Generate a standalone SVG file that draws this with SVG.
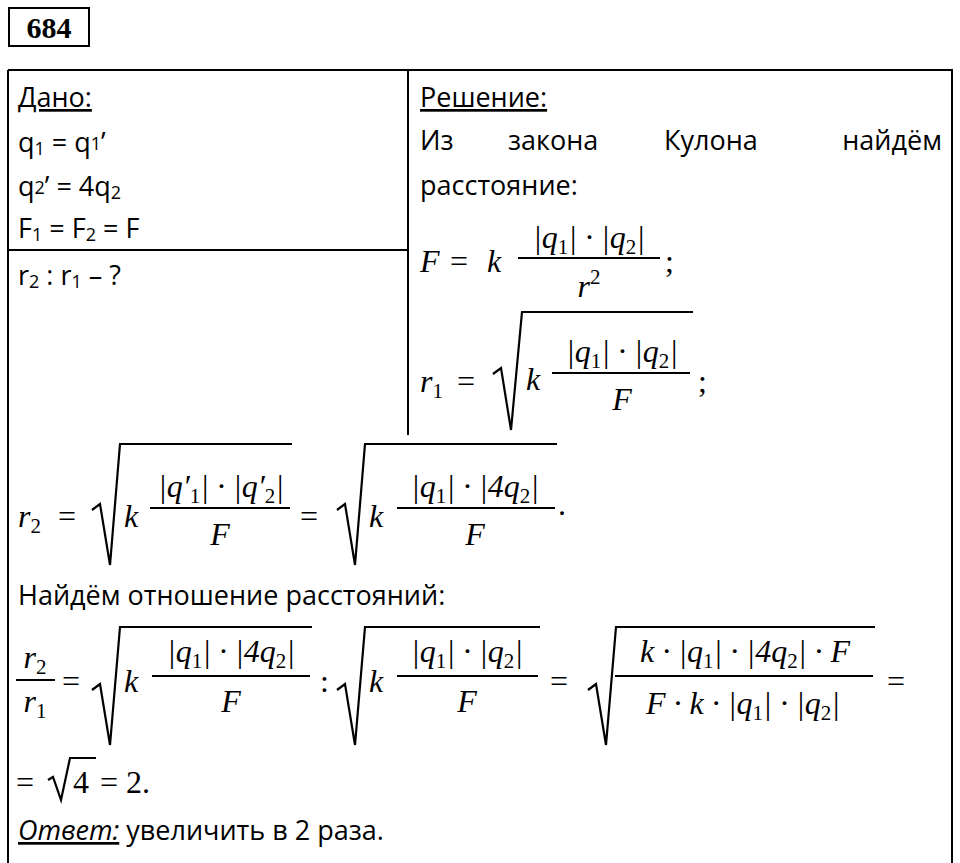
<svg xmlns="http://www.w3.org/2000/svg" width="960" height="863" viewBox="0 0 960 863">
<style>
.t{font-family:"Open Sans","Noto Sans",sans-serif;font-size:27px;fill:#000}
.m{font-family:"Liberation Serif",serif;font-style:italic;font-size:32px;fill:#000}
.n{font-family:"Liberation Serif",serif;font-size:32px;fill:#000}
.s{font-size:21px}
.b{font-size:18px}
.l{stroke:#000;stroke-width:2;fill:none}
.r{stroke:#000;stroke-width:2.2;fill:none;stroke-linejoin:miter}
</style>
<rect width="960" height="863" fill="#fff"/>
<rect x="9" y="8" width="80" height="38" class="l" stroke-width="2.5"/>
<text x="49" y="38" text-anchor="middle" style="font-family:'Liberation Serif',serif;font-weight:bold;font-size:30px">684</text>
<path class="l" d="M8,70 H952 V863 M8,70 V863 M408,70 V435 M8,250 H408"/>
<text class="t" x="18" y="107" text-decoration="underline">Дано:</text>
<text class="t" x="18" y="152">q<tspan class="b" dy="3">1</tspan><tspan dy="-3"> = q</tspan><tspan class="b" dy="-2">1</tspan><tspan dy="2">’</tspan></text>
<text class="t" x="18" y="196">q<tspan class="b" dy="-2">2</tspan><tspan dy="2">’ = 4q</tspan><tspan class="b" dy="3">2</tspan></text>
<text class="t" x="18" y="238">F<tspan class="b" dy="3">1</tspan><tspan dy="-3"> = F</tspan><tspan class="b" dy="3">2</tspan><tspan dy="-3"> = F</tspan></text>
<text class="t" x="18" y="285">r<tspan class="b" dy="3">2</tspan><tspan dy="-3"> : r</tspan><tspan class="b" dy="3">1</tspan><tspan dy="-3"> – ?</tspan></text>
<text class="t" x="420" y="107" text-decoration="underline">Решение:</text>
<text class="t" x="420" y="150">Из</text><text class="t" x="508" y="150">закона</text><text class="t" x="664" y="150">Кулона</text><text class="t" x="942" y="150" text-anchor="end">найдём</text>
<text class="t" x="420" y="195">расстояние:</text>
<g id="eqF">
<text class="m" x="420" y="272">F</text><text class="n" x="450" y="272">=</text><text class="m" x="487" y="272">k</text>
<text class="m" x="589" y="248" text-anchor="middle">|q<tspan class="s" dy="6" font-style="normal">1</tspan><tspan dy="-6">| · |q</tspan><tspan class="s" dy="6" font-style="normal">2</tspan><tspan dy="-6">|</tspan></text>
<line class="l" x1="518" y1="258" x2="660" y2="258"/>
<text class="m" x="589" y="297" text-anchor="middle">r<tspan class="s" dy="-13" font-style="normal">2</tspan></text>
<text class="n" x="665" y="272">;</text>
</g>
<g id="eqR1">
<text class="m" x="420" y="392">r<tspan class="s" dy="6" font-style="normal">1</tspan></text><text class="n" x="457" y="392">=</text>
<path class="r" d="M493,374 L501,368 L511,430 L522,312 L693,312"/>
<text class="m" x="526" y="390">k</text>
<text class="m" x="622" y="362" text-anchor="middle">|q<tspan class="s" dy="6" font-style="normal">1</tspan><tspan dy="-6">| · |q</tspan><tspan class="s" dy="6" font-style="normal">2</tspan><tspan dy="-6">|</tspan></text>
<line class="l" x1="552" y1="373" x2="690" y2="373"/>
<text class="m" x="622" y="410" text-anchor="middle">F</text>
<text class="n" x="698" y="392">;</text>
</g>
<g id="eqR2">
<text class="m" x="18" y="527">r<tspan class="s" dy="6" font-style="normal">2</tspan></text><text class="n" x="58" y="527">=</text>
<path class="r" d="M92,510 L100,504 L110,565 L120,444 L292,444"/>
<text class="m" x="124" y="527">k</text>
<text class="m" x="221" y="497" text-anchor="middle">|q′<tspan class="s" dy="6" font-style="normal">1</tspan><tspan dy="-6">| · |q′</tspan><tspan class="s" dy="6" font-style="normal">2</tspan><tspan dy="-6">|</tspan></text>
<line class="l" x1="150" y1="508" x2="290" y2="508"/>
<text class="m" x="220" y="545" text-anchor="middle">F</text>
<text class="n" x="300" y="527">=</text>
<path class="r" d="M337,510 L345,504 L355,565 L365,444 L557,444"/>
<text class="m" x="369" y="527">k</text>
<text class="m" x="475" y="497" text-anchor="middle">|q<tspan class="s" dy="6" font-style="normal">1</tspan><tspan dy="-6">| · |4q</tspan><tspan class="s" dy="6" font-style="normal">2</tspan><tspan dy="-6">|</tspan></text>
<line class="l" x1="397" y1="508" x2="555" y2="508"/>
<text class="m" x="475" y="545" text-anchor="middle">F</text>
<text class="n" x="558" y="515">.</text>
</g>
<text class="t" x="18" y="605">Найдём отношение расстояний:</text>
<g id="eqRatio">
<text class="m" x="35" y="668" text-anchor="middle">r<tspan class="s" dy="6" font-style="normal">2</tspan></text>
<line class="l" x1="16" y1="680" x2="55" y2="680"/>
<text class="m" x="35" y="712" text-anchor="middle">r<tspan class="s" dy="6" font-style="normal">1</tspan></text>
<text class="n" x="62" y="692">=</text>
<path class="r" d="M92,690 L100,684 L110,745 L120,627 L312,627"/>
<text class="m" x="124" y="692">k</text>
<text class="m" x="231" y="662" text-anchor="middle">|q<tspan class="s" dy="6" font-style="normal">1</tspan><tspan dy="-6">| · |4q</tspan><tspan class="s" dy="6" font-style="normal">2</tspan><tspan dy="-6">|</tspan></text>
<line class="l" x1="152" y1="676" x2="310" y2="676"/>
<text class="m" x="231" y="712" text-anchor="middle">F</text>
<text class="n" x="320" y="692">:</text>
<path class="r" d="M337,690 L345,684 L355,745 L365,627 L540,627"/>
<text class="m" x="369" y="692">k</text>
<text class="m" x="467" y="662" text-anchor="middle">|q<tspan class="s" dy="6" font-style="normal">1</tspan><tspan dy="-6">| · |q</tspan><tspan class="s" dy="6" font-style="normal">2</tspan><tspan dy="-6">|</tspan></text>
<line class="l" x1="397" y1="676" x2="538" y2="676"/>
<text class="m" x="467" y="712" text-anchor="middle">F</text>
<text class="n" x="550" y="692">=</text>
<path class="r" d="M588,690 L596,684 L606,745 L616,627 L875,627"/>
<text class="m" x="745" y="662" text-anchor="middle">k · |q<tspan class="s" dy="6" font-style="normal">1</tspan><tspan dy="-6">| · |4q</tspan><tspan class="s" dy="6" font-style="normal">2</tspan><tspan dy="-6">| · F</tspan></text>
<line class="l" x1="615" y1="676" x2="873" y2="676"/>
<text class="m" x="743" y="714" text-anchor="middle">F · k · |q<tspan class="s" dy="6" font-style="normal">1</tspan><tspan dy="-6">| · |q</tspan><tspan class="s" dy="6" font-style="normal">2</tspan><tspan dy="-6">|</tspan></text>
<text class="n" x="887" y="692">=</text>
</g>
<g id="eqRes">
<text class="n" x="16" y="793">=</text>
<path class="r" d="M48,780 L53,777 L61,800 L70,758 L96,758"/>
<text class="n" x="73" y="793">4</text>
<text class="n" x="100" y="793">= 2.</text>
</g>
<text class="t" x="18" y="840"><tspan font-style="italic" text-decoration="underline">Ответ:</tspan> увеличить в 2 раза.</text>
</svg>
